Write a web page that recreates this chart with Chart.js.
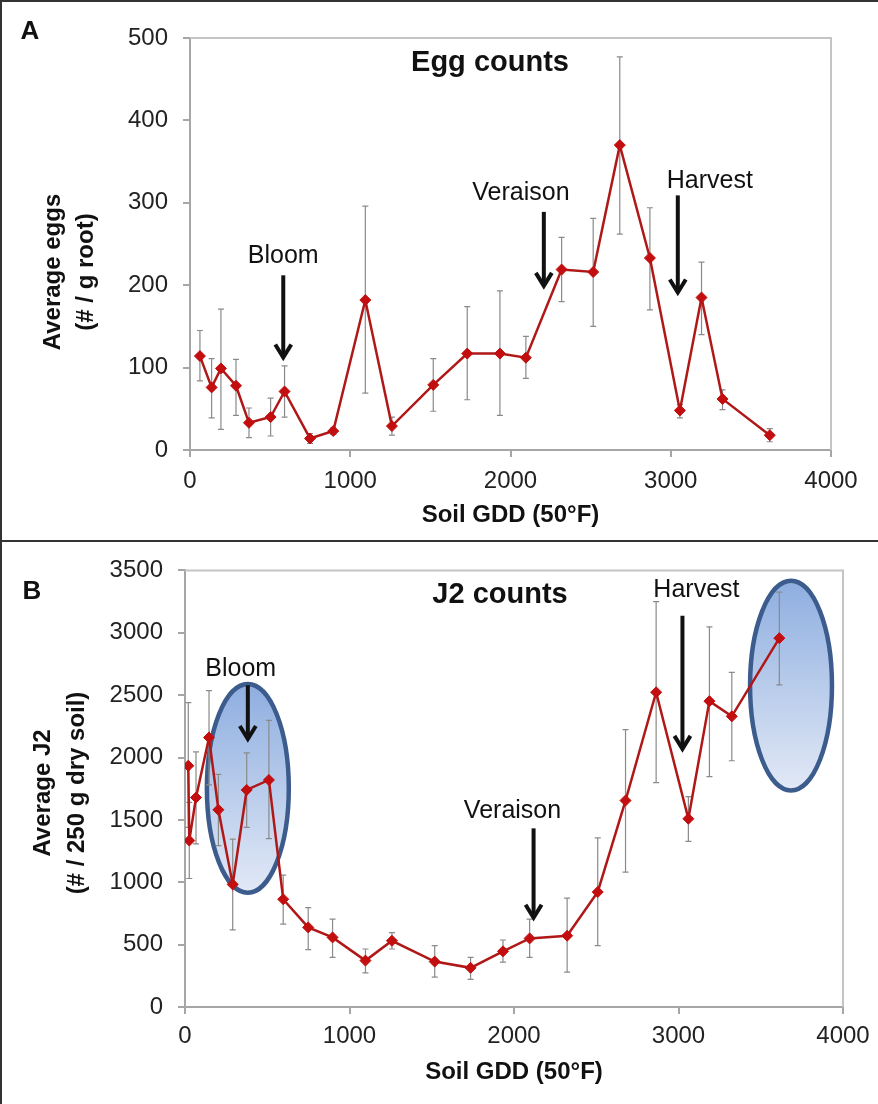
<!DOCTYPE html>
<html>
<head>
<meta charset="utf-8">
<script src="https://cdn.jsdelivr.net/npm/chart.js@4.4.1/dist/chart.umd.min.js"></script>
<style>
  body { margin: 0; background: #fff; width: 878px; height: 1104px; position: relative; overflow: hidden; }
  .panel { position: absolute; left: 0; width: 878px; }
  #pa { top: 0; height: 540px; }
  #pb { top: 541px; height: 563px; }
  .rule { position: absolute; background: #333; }
</style>
</head>
<body>
<div class="panel" id="pa"><canvas id="chartA" width="878" height="540"></canvas></div>
<div class="panel" id="pb"><canvas id="chartB" width="878" height="563"></canvas></div>
<div class="rule" style="left:0;top:0;width:878px;height:2px"></div>
<div class="rule" style="left:0;top:540px;width:878px;height:2px"></div>
<div class="rule" style="left:0;top:0;width:2px;height:1104px"></div>
<script>
// panel A - egg counts
const gddA = [62, 135, 193, 287, 368, 503, 590, 749, 894, 1094, 1260, 1518, 1730, 1934, 2096, 2319, 2516, 2682, 2870, 3057, 3192, 3323, 3618]
const eggs = [114, 76, 99, 78, 33, 40, 71, 14, 23, 182, 29, 79, 117, 117, 112, 219, 216, 370, 233, 48, 185, 62, 18]
const eggsLow = [84, 39, 25, 42, 15, 17, 40, 8, 19, 69, 18, 47, 61, 42, 87, 180, 150, 262, 170, 39, 140, 49, 10]
const eggsHigh = [145, 111, 171, 110, 51, 63, 102, 20, 27, 296, 40, 111, 174, 193, 138, 258, 281, 477, 294, 55, 228, 73, 26]

// panel B - J2 counts
const gddB = [20, 26, 67, 146, 203, 290, 375, 510, 597, 749, 897, 1097, 1258, 1518, 1736, 1933, 2095, 2323, 2509, 2678, 2864, 3060, 3188, 3324, 3613]
const j2 = [1934, 1334, 1679, 2160, 1581, 983, 1740, 1820, 864, 638, 558, 372, 531, 364, 314, 446, 550, 571, 922, 1655, 2523, 1509, 2452, 2330, 2957]
const j2Low = [1440, 1030, 1307, 1780, 1294, 619, 1440, 1350, 664, 460, 398, 274, 465, 239, 221, 359, 398, 279, 492, 1081, 1798, 1328, 1846, 1974, 2582]
const j2High = [2440, 1640, 2045, 2537, 1865, 1345, 2037, 2298, 1057, 797, 704, 465, 597, 492, 398, 537, 704, 872, 1355, 2223, 3249, 1686, 3047, 2683, 3326]

const xTicks = [0, 1000, 2000, 3000, 4000]
const yTicksA = [0, 100, 200, 300, 400, 500]
const yTicksB = [0, 500, 1000, 1500, 2000, 2500, 3000, 3500]

// stage arrows, in data units (x = GDD, y = axis value)
const stagesA = [
    {label: 'Bloom', x: 582, from: 212, to: 111, textY: 227},
    {label: 'Veraison', x: 2208, from: 289, to: 198, textX: 2065, textY: 303},
    {label: 'Harvest', x: 3044, from: 309, to: 190, textX: 3244, textY: 318},
]
const stagesB = [
    {label: 'Bloom', x: 382, from: 2579, to: 2141, textX: 339, textY: 2656},
    {label: 'Veraison', x: 2119, from: 1432, to: 707, textX: 1991, textY: 1514},
    {label: 'Harvest', x: 3024, from: 3137, to: 2061, textX: 3109, textY: 3287},
]
const circlesB = [
    {x: 382, y: 1753, rx: 249, ry: 837},
    {x: 3684, y: 2577, rx: 249, ry: 841},
]

const font = '"Liberation Sans", Arial, sans-serif'
const red = '#b01818'

function overlay(p) {
    return {
        id: 'overlay',
        beforeDatasetsDraw(chart) {
            const {ctx, scales: {x, y}} = chart
            ctx.save()
            // highlight ellipses
            ;(p.circles || []).forEach(c => {
                const cx = x.getPixelForValue(c.x), cy = y.getPixelForValue(c.y)
                const rx = x.getPixelForValue(c.x + c.rx) - cx
                const ry = cy - y.getPixelForValue(c.y + c.ry)
                const g = ctx.createLinearGradient(0, cy - ry, 0, cy + ry)
                g.addColorStop(0, '#8eaee0')
                g.addColorStop(1, '#e2e9f6')
                ctx.beginPath()
                ctx.ellipse(cx, cy, rx, ry, 0, 0, Math.PI * 2)
                ctx.fillStyle = g
                ctx.fill()
                ctx.lineWidth = 4.5
                ctx.strokeStyle = '#3b5c8c'
                ctx.stroke()
            })
            // error bars
            ctx.strokeStyle = '#8a8a8a'
            ctx.lineWidth = 1.2
            p.xs.forEach((v, i) => {
                const px = x.getPixelForValue(v)
                const y1 = y.getPixelForValue(p.low[i]), y2 = y.getPixelForValue(p.high[i])
                ctx.beginPath()
                ctx.moveTo(px, y1); ctx.lineTo(px, y2)
                ctx.moveTo(px - 3, y1); ctx.lineTo(px + 3, y1)
                ctx.moveTo(px - 3, y2); ctx.lineTo(px + 3, y2)
                ctx.stroke()
            })
            ctx.restore()
        },
        afterDraw(chart) {
            const {ctx, chartArea: a, scales: {x, y}} = chart
            ctx.save()
            // top / right frame of plot area
            ctx.strokeStyle = '#c4c4c4'
            ctx.lineWidth = 2
            ctx.beginPath()
            ctx.moveTo(a.left, a.top); ctx.lineTo(a.right, a.top); ctx.lineTo(a.right, a.bottom)
            ctx.stroke()

            ctx.fillStyle = '#111'
            ctx.strokeStyle = '#111'
            ctx.textAlign = 'center'
            ctx.textBaseline = 'alphabetic'
            // stage arrows
            p.stages.forEach(s => {
                const px = x.getPixelForValue(s.x)
                const t = y.getPixelForValue(s.to)
                ctx.lineWidth = 4
                ctx.beginPath()
                ctx.moveTo(px, y.getPixelForValue(s.from)); ctx.lineTo(px, t - 2)
                ctx.stroke()
                ctx.beginPath()
                ctx.moveTo(px - 8, t - 14); ctx.lineTo(px, t - 1); ctx.lineTo(px + 8, t - 14)
                ctx.stroke()
                ctx.font = '25px ' + font
                ctx.fillText(s.label, x.getPixelForValue(s.textX ?? s.x), y.getPixelForValue(s.textY))
            })
            // chart title
            ctx.font = 'bold 29px ' + font
            ctx.fillText(p.title, p.titleX, p.titleY)
            // panel letter
            ctx.font = 'bold 26px ' + font
            ctx.fillText(p.letter, p.letterX, p.letterY)
            // x axis title
            ctx.font = 'bold 24px ' + font
            ctx.fillText('Soil GDD (50°F)', (a.left + a.right) / 2, p.xTitleY)
            // y axis title, two rotated lines
            ctx.save()
            ctx.translate(0, p.yTitleY)
            ctx.rotate(-Math.PI / 2)
            ctx.textBaseline = 'middle'
            ctx.fillText(p.yTitle[0], 0, p.yTitleX[0])
            ctx.fillText(p.yTitle[1], 0, p.yTitleX[1])
            ctx.restore()
            ctx.restore()
        }
    }
}

function makeChart(id, p) {
    return new Chart(document.getElementById(id), {
        type: 'scatter',
        data: {
            datasets: [{
                data: p.xs.map((v, i) => ({x: v, y: p.ys[i]})),
                showLine: true,
                borderColor: red,
                borderWidth: 2.5,
                backgroundColor: '#c20e0e',
                pointStyle: 'rectRot',
                pointRadius: 5.5,
                pointBorderWidth: 1,
                pointBorderColor: '#c20e0e',
            }]
        },
        options: {
            responsive: false,
            animation: false,
            layout: {padding: p.pad},
            plugins: {legend: {display: false}, tooltip: {enabled: false}},
            scales: {
                x: {
                    type: 'linear', min: 0, max: 4000,
                    afterBuildTicks: s => { s.ticks = xTicks.map(v => ({value: v})) },
                    afterFit: s => { s.height = p.xHeight },
                    grid: {drawOnChartArea: false, tickLength: 7, color: '#a6a6a6', lineWidth: 2},
                    border: {color: '#a6a6a6', width: 2},
                    ticks: {font: {family: font, size: 24}, color: '#222', padding: p.xPad, maxRotation: 0,
                        callback: v => String(v)},
                },
                y: {
                    min: 0, max: p.yTicks[p.yTicks.length - 1],
                    afterBuildTicks: s => { s.ticks = p.yTicks.map(v => ({value: v})) },
                    afterFit: s => { s.width = p.yWidth },
                    grid: {drawOnChartArea: false, tickLength: 7, color: '#a6a6a6', lineWidth: 2},
                    border: {color: '#a6a6a6', width: 2},
                    ticks: {font: {family: font, size: 24}, color: '#222', padding: 15,
                        callback: v => String(v)},
                }
            }
        },
        plugins: [overlay(p)]
    })
}

makeChart('chartA', {
    xs: gddA, ys: eggs, low: eggsLow, high: eggsHigh, yTicks: yTicksA,
    pad: {top: 38, right: 47, left: 0, bottom: 0}, yWidth: 190, xHeight: 90, xPad: 10,
    stages: stagesA, title: 'Egg counts', titleX: 490, titleY: 71,
    letter: 'A', letterX: 30, letterY: 39, xTitleY: 522,
    yTitle: ['Average eggs', '(# / g root)'], yTitleX: [53, 86], yTitleY: 272,
})

makeChart('chartB', {
    xs: gddB, ys: j2, low: j2Low, high: j2High, yTicks: yTicksB, circles: circlesB,
    pad: {top: 26, right: 35, left: 0, bottom: 0}, yWidth: 185, xHeight: 97, xPad: 8,
    stages: stagesB, title: 'J2 counts', titleX: 500, titleY: 62,
    letter: 'B', letterX: 32, letterY: 58, xTitleY: 538,
    yTitle: ['Average J2', '(# / 250 g dry soil)'], yTitleX: [43, 77], yTitleY: 252,
})
</script>
</body>
</html>
